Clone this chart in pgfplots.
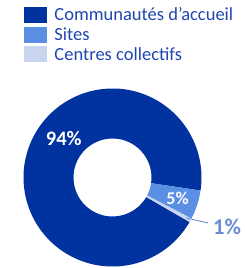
\documentclass[border=0pt]{standalone}
\usepackage{fontspec}
\setmainfont{Carlito}
\usepackage{pgfplots}
\usepackage{pgfplotstable}
\pgfplotsset{compat=1.18}
\definecolor{cDark}{HTML}{0033A0}
\definecolor{cSites}{HTML}{5B8FE3}
\definecolor{cCentres}{HTML}{C9D5EE}
\definecolor{cLeg}{HTML}{2046B0}
\definecolor{cOne}{HTML}{6C8BD3}

\pgfplotstableread{
share
94.0
5.3
0.7
}\shares

\begin{document}
\begin{tikzpicture}
\pgfplotstablegetelem{0}{share}\of\shares \let\vDark\pgfplotsretval
\pgfplotstablegetelem{1}{share}\of\shares \let\vSites\pgfplotsretval
\pgfplotstablegetelem{2}{share}\of\shares \let\vCentres\pgfplotsretval
\pgfmathsetmacro{\angS}{-30}
\pgfmathsetmacro{\angA}{\angS-3.6*\vDark}
\pgfmathsetmacro{\angB}{\angA-3.6*\vSites}
\pgfmathsetmacro{\angC}{\angB-3.6*\vCentres}
\pgfmathsetmacro{\angM}{(\angB+\angC)/2}
\def\Ro{89pt}
\def\Ri{39pt}
\begin{axis}[hide axis, x=1pt, y=1pt, xmin=-90, xmax=90, ymin=-90, ymax=90,
  disabledatascaling, anchor=origin, at={(112.5pt,90.5pt)}, clip=false,
  legend cell align=left,
  legend style={at={(axis description cs:0.00833,1.449)}, anchor=north west,
    draw=none, fill=none, inner sep=0pt, outer sep=0pt, row sep=0pt,
    /tikz/column sep=0pt,
    nodes={inner sep=0pt, text=cLeg, font=\fontsize{18.5}{18.5}\selectfont,
      text height=14pt, text depth=5.7pt, anchor=base west}},
  legend image code/.code={\path[draw=none, fill=none] (0pt,-1pt) rectangle (30.3pt,14pt);
    \fill[#1] (0pt,-1pt) rectangle (21.7pt,14pt);}]
\addlegendimage{cDark}\addlegendentry{Communautés d’accueil}
\addlegendimage{cSites}\addlegendentry{Sites}
\addlegendimage{cCentres}\addlegendentry{Centres collectifs}

\fill[cDark] ([shift={(\angS:\Ro)}]axis cs:0,0) arc[start angle=\angS, end angle=\angA, radius=\Ro]
  -- ([shift={(\angA:\Ri)}]axis cs:0,0) arc[start angle=\angA, end angle=\angS, radius=\Ri] -- cycle;
\fill[cSites] ([shift={(\angA:\Ro)}]axis cs:0,0) arc[start angle=\angA, end angle=\angB, radius=\Ro]
  -- ([shift={(\angB:\Ri)}]axis cs:0,0) arc[start angle=\angB, end angle=\angA, radius=\Ri] -- cycle;
\fill[cCentres] ([shift={(\angB:\Ro)}]axis cs:0,0) arc[start angle=\angB, end angle=\angC, radius=\Ro]
  -- ([shift={(\angC:\Ri)}]axis cs:0,0) arc[start angle=\angC, end angle=\angB, radius=\Ri] -- cycle;

\draw[cOne, line width=0.9pt] ([shift={(\angM:84pt)}]axis cs:0,0) -- (axis cs:95.5,-45.5);
\node[font=\bfseries\fontsize{20.5}{20.5}\selectfont, text=white] at (axis cs:-48.7,38.5) {94\%};
\node[font=\bfseries\fontsize{18}{18}\selectfont, text=white] at (axis cs:65,-20.5) {5\%};
\node[font=\bfseries\fontsize{22.5}{22.5}\selectfont, text=cOne] at (axis cs:114.5,-49) {1\%};
\end{axis}
\pgfresetboundingbox
\path (0,0) rectangle (245pt,268pt);
\end{tikzpicture}
\end{document}
